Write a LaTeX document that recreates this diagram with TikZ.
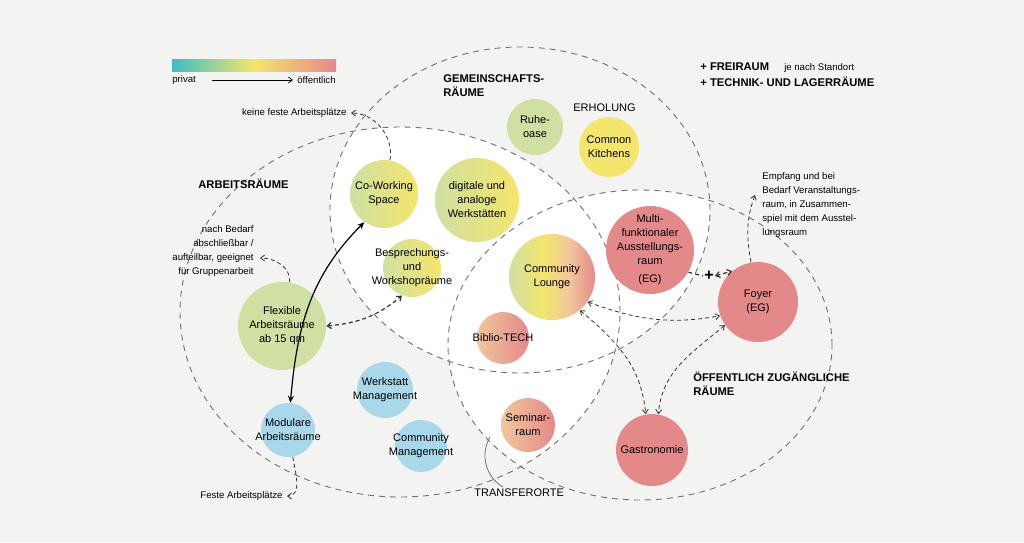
\documentclass[tikz,border=0pt]{standalone}
\usepackage{fontspec}
\setmainfont{Liberation Sans}
\usetikzlibrary{arrows.meta}

\definecolor{bg}{HTML}{F3F4F2}
\definecolor{cteal}{HTML}{3CBEC0}
\definecolor{cgreen}{HTML}{CFE0A2}
\definecolor{cyellow}{HTML}{F4E56C}
\definecolor{cpeach}{HTML}{F1C79C}
\definecolor{csalmon}{HTML}{E4898A}
\definecolor{cblue}{HTML}{A8D8EA}
\definecolor{cline}{HTML}{707070}

\pgfdeclarehorizontalshading{gy}{100bp}{color(0bp)=(cgreen); color(25bp)=(cgreen); color(75bp)=(cyellow); color(100bp)=(cyellow)}
\pgfdeclarehorizontalshading{gys}{100bp}{color(0bp)=(cgreen); color(25bp)=(cgreen); color(45bp)=(cyellow); color(60bp)=(cpeach); color(75bp)=(csalmon); color(100bp)=(csalmon)}
\pgfdeclarehorizontalshading{ps}{100bp}{color(0bp)=(cpeach); color(25bp)=(cpeach); color(75bp)=(csalmon); color(100bp)=(csalmon)}
\pgfdeclarehorizontalshading{legend}{100bp}{color(0bp)=(cteal); color(25bp)=(cteal); color(50bp)=(cyellow); color(75bp)=(csalmon); color(100bp)=(csalmon)}

\tikzset{
  room/.style={circle, inner sep=0pt, align=center, font=\fontsize{5.5}{7}\selectfont},
  roomtext/.style={inner sep=0pt, align=center, font=\fontsize{5.5}{7}\selectfont},
  region/.style={draw=cline, dashed, dash pattern=on 3pt off 2.5pt, line width=0.45pt},
  link/.style={draw=black!80, dashed, dash pattern=on 2pt off 1.5pt, line width=0.4pt, {Straight Barb[length=2pt,width=3pt]}-{Straight Barb[length=2pt,width=3pt]}},
  note/.style={font=\fontsize{4.8}{7}\selectfont, align=left, inner sep=0pt},
  head/.style={font=\bfseries\fontsize{5.6}{7}\selectfont, align=left, inner sep=0pt, anchor=west}
}

\begin{document}
\begin{tikzpicture}[x=0.5pt, y=-0.5pt]
        \fill[bg] (0,0) rectangle (1024,542);
        \useasboundingbox (0,0) rectangle (1024,542);

        % white overlaps
        \begin{scope}
            \clip (520,210) ellipse [x radius=95pt, y radius=81.5pt];
            \fill[white] (400,312) ellipse [x radius=110pt, y radius=92.5pt];
            \fill[white] (640,345) ellipse [x radius=96pt, y radius=77.5pt];
        \end{scope}
        \begin{scope}
            \clip (400,312) ellipse [x radius=110pt, y radius=92.5pt];
            \fill[white] (640,345) ellipse [x radius=96pt, y radius=77.5pt];
        \end{scope}

        % regions
        \draw[region] (520,210) ellipse [x radius=95pt, y radius=81.5pt];
        \draw[region] (400,312) ellipse [x radius=110pt, y radius=92.5pt];
        \draw[region] (640,345) ellipse [x radius=96pt, y radius=77.5pt];

        % legend
        \shade[shading=legend] (172,59) rectangle (336,71);
        \node[note, anchor=west] (privat) at (172,80) {privat};
        \node[note, anchor=east] (oeff) at (336,80) {öffentlich};
        \draw[-{Straight Barb[length=2pt,width=3pt]}, line width=0.35pt, shorten <=8pt, shorten >=2pt] (privat) -- (oeff);

        % rooms
        \node[room, fill=cgreen, minimum size=28pt] (ruhe) at (535,127) {Ruhe-\\oase};
        \node[room, fill=cyellow, minimum size=30pt] (kitchen) at (609,147) {Common\\Kitchens};
        \node[room, shading=gy, minimum size=34pt] (cowork) at (384,194) {Co-Working\\Space};
        \node[room, shading=gy, minimum size=42pt] (werk) at (477,200) {digitale und\\analoge\\Werkstätten};
        \node[room, shading=gy, minimum size=29pt] (bespr) at (412,268) {};
        \node[roomtext] at (bespr) {Besprechungs-\\und\\Workshopräume};
        \node[room, shading=gys, minimum size=43pt] (lounge) at (552,277) {Community\\Lounge};
        \node[room, fill=csalmon, minimum size=44pt] (multi) at (650,250) {};
        \node[roomtext] at (multi) {Multi-\\funktionaler\\Ausstellungs-\\raum\\[2pt](EG)};
        \node[room, fill=csalmon, minimum size=40pt] (foyer) at (758,302) {Foyer\\(EG)};
        \node[room, shading=ps, minimum size=26pt] (biblio) at (503,338) {};
        \node[roomtext] at (biblio) {Biblio-TECH};
        \node[room, fill=cgreen, minimum size=44pt] (flex) at (282,326) {Flexible\\Arbeitsräume\\ab 15 qm};
        \node[room, fill=cblue, minimum size=28pt] (wman) at (385,390) {};
        \node[roomtext] at (wman) {Werkstatt\\Management};
        \node[room, fill=cblue, minimum size=27pt] (modul) at (288,430) {};
        \node[roomtext] at (modul) {Modulare\\Arbeitsräume};
        \node[room, fill=cblue, minimum size=26pt] (cman) at (421,446) {};
        \node[roomtext] at (cman) {Community\\Management};
        \node[room, shading=ps, minimum size=27pt] (seminar) at (528,425) {Seminar-\\raum};
        \node[room, fill=csalmon, minimum size=36pt] (gastro) at (652,450) {Gastronomie};

        % headings
        \node[head] (gemein) at (443,86) {GEMEINSCHAFTS-\\RÄUME};
        \node[note, anchor=west, font=\fontsize{5.5}{7}\selectfont] (erhol) at (573,108) {ERHOLUNG};
        \node[head] (frei) at (700,68) {+ FREIRAUM \mdseries\fontsize{4.8}{7}\selectfont\hspace{6pt}je nach Standort};
        \node[head] (technik) at (700,82) {+ TECHNIK- UND LAGERRÄUME};
        \node[head] (arbeit) at (198,184) {ARBEITSRÄUME};
        \node[head] (oeffentl) at (693,384) {ÖFFENTLICH ZUGÄNGLICHE\\RÄUME};
        \node[note, anchor=west, font=\fontsize{5.5}{7}\selectfont] (transfer) at (474,493) {TRANSFERORTE};

        % notes
        \node[note, anchor=east] (keine) at (347,113) {keine feste Arbeitsplätze};
        \node[note, anchor=east, align=right] (bedarf) at (254,251) {nach Bedarf\\abschließbar /\\aufteilbar, geeignet\\für Gruppenarbeit};
        \node[note, anchor=north west] (empfang) at (762,172) {Empfang und bei\\Bedarf Veranstaltungs-\\raum, in Zusammen-\\spiel mit dem Ausstel-\\lungsraum};
        \node[note, anchor=east] (feste) at (283,496) {Feste Arbeitsplätze};
        \coordinate (plus) at (709,276);
        \node[font=\bfseries\fontsize{8}{8}\selectfont, inner sep=0pt] at (plus) {+};

        % connectors
        \draw[link, -{Straight Barb[length=2pt,width=3pt]}] (cowork.80) to[out=80, in=0] ([xshift=2pt]keine.east);
        \draw[link, -{Straight Barb[length=2pt,width=3pt]}] (flex.80) to[out=85, in=0] ([xshift=3pt]bedarf.east |- 0,258);
        \draw[link, -{Straight Barb[length=2pt,width=3pt]}] (modul.-80) to[out=-80, in=0] ([xshift=2pt]feste.east);
        \draw[link, -{Straight Barb[length=2pt,width=3pt]}] (foyer.100) to[out=100, in=-110] (755,195);
        \draw[{Stealth[length=3.5pt,width=3pt,open]}-{Stealth[length=3.5pt,width=3pt,open]}, line width=0.6pt] (modul.85) to[out=85, in=-135] (cowork.-125);
        \draw[link, line width=0.6pt] (flex.east) to[out=5, in=-140] (bespr.-110);
        \draw[link, line width=0.6pt] (multi.-30) -- ([xshift=-3pt]plus) ([xshift=3pt]plus) -- (foyer.130);
        \draw[link] (lounge.-35) to[out=-20, in=-170] (foyer.200);
        \draw[link] (lounge.-50) to[out=-40, in=95] (gastro.100);
        \draw[link] (foyer.215) to[out=-140, in=85] (gastro.80);
        \draw[line width=0.4pt, cline] (490,437) to[out=-120, in=150] (503,487);
    \end{tikzpicture}
\end{document}
